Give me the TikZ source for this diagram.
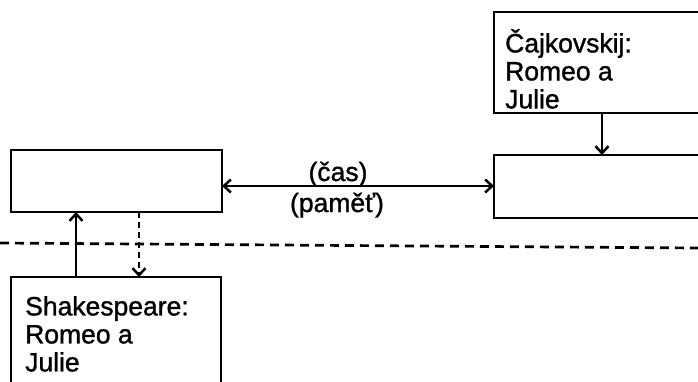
\documentclass[tikz,border=0pt]{standalone}
\usepackage{fontspec}
\setmainfont[FakeBold=1.2]{Liberation Sans}
\usetikzlibrary{arrows.meta}
\begin{document}
\begin{tikzpicture}[x=1pt,y=-1pt,
  box/.style={draw,line width=2.7pt,inner sep=0pt,outer sep=0pt},
  txt/.style={font=\fontsize{26.5}{28}\selectfont,inner sep=0pt},
  label/.style={txt,align=left,anchor=north west},
  barb/.tip={Straight Barb[length=7pt,width=13pt,line width=2.5pt]},
  arr/.style={line width=2.5pt,-barb},
  darr/.style={arr,dash pattern=on 6pt off 4pt},
  sep/.style={line width=2.7pt,dash pattern=on 9pt off 6pt}]
\useasboundingbox (0,0) rectangle (698,381);
\clip (0,0) rectangle (698,381);
% boxes
\node[box,minimum width=211pt,minimum height=62pt] (mind) at (116.5,181) {};
\node[box,minimum width=226pt,minimum height=63pt] (music) at (607,186.5) {};
\node[box,minimum width=226pt,minimum height=101pt] (tch) at (607,62.5) {};
\node[box,minimum width=210pt,minimum height=123pt] (shk) at (116,338.5) {};
% box texts
\node[label] (tchtext) at (505,29) {Čajkovskij:\\Romeo a\\Julie};
\node[label] (shktext) at (25,296) {Shakespeare:\\Romeo a\\Julie};
% guide coordinates
\coordinate (xa) at (602,0);
\coordinate (xb) at (76,0);
\coordinate (xc) at (139,0);
\coordinate (yh) at (0,186);
\coordinate (sl) at (0,243);
\coordinate (sr) at (698,248);
% connectors
\draw[arr] (tch.south -| xa) -- (music.north -| xa);
\draw[line width=2.5pt,barb-barb] (mind.east |- yh) -- (music.west |- yh);
\draw[arr] (shk.north -| xb) -- (mind.south -| xb);
\draw[darr] (mind.south -| xc) -- (shk.north -| xc);
\draw[sep] (sl) -- (sr);
% labels on the horizontal link
\node[txt,anchor=base] (cas) at (338,181) {(čas)};
\node[txt,anchor=base] (pamet) at (337,212) {(paměť)};
\end{tikzpicture}
\end{document}
